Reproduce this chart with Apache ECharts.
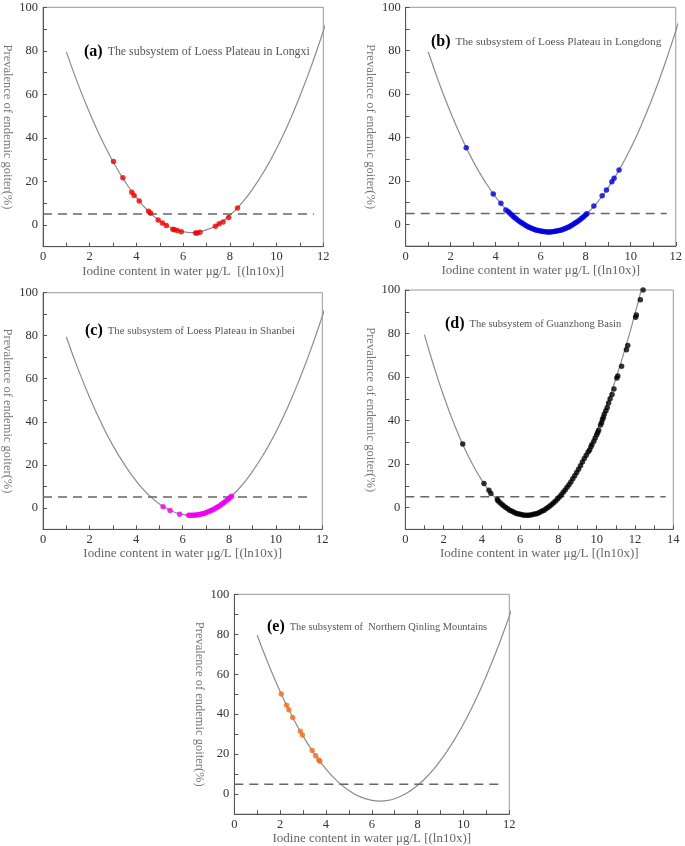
<!DOCTYPE html>
<html><head><meta charset="utf-8">
<script src="https://cdn.jsdelivr.net/npm/echarts@6/dist/echarts.min.js"></script>
<style>html,body{margin:0;padding:0;background:#fff}#c{width:685px;height:846px}</style>
</head><body><div id="c"></div>
<script>
// Fitted curve
const curveX = [1,1.5,2,2.5,3,3.5,4,4.5,5,5.5,6,6.35,6.5,7,7.5,8,8.5,9,9.5,10,10.5,11,11.5,12,12.3];
const curveY = [79.5,64.7,51.4,39.5,29.0,20.1,12.5,6.4,1.8,-1.4,-3.1,-3.5,-3.4,-2.3,0.3,4.4,9.9,16.9,25.3,35.1,46.4,59.2,73.4,89.1,99.2];
// Threshold line (5%)
const thresholdY = 5;
const thresholdEnd = [11.6, 11.6, 11.6, 13.6, 11.6];

// (a) Longxi
const aX = [3.02,3.42,3.80,3.90,4.12,4.52,4.61,4.93,5.11,5.28,5.56,5.63,5.75,5.92,6.53,6.60,6.72,7.38,7.54,7.71,7.95,8.33];
const aY = [29.2,21.7,15.0,13.5,11.0,6.3,5.4,2.3,0.9,-0.3,-2.0,-2.2,-2.6,-3.1,-3.7,-3.7,-3.4,-0.6,0.5,1.4,3.4,7.8];
// (b) Longdong
const bX = [2.69,3.89,4.23,4.45,4.55,4.62,4.70,4.78,4.85,4.92,5.00,5.08,5.15,5.22,5.30,5.38,5.45,5.52,5.60,5.68,5.75,5.82,5.90,5.98,6.05,6.12,6.20,6.28,6.35,6.42,6.50,6.58,6.65,6.72,6.80,6.88,6.95,7.02,7.10,7.18,7.25,7.32,7.40,7.48,7.55,7.62,7.70,7.78,7.85,7.92,8.00,8.05,8.36,8.73,8.92,9.16,9.26,9.48];
const bY = [35.3,14.0,9.7,6.6,5.9,5.2,4.4,3.6,3.0,2.4,1.8,1.2,0.7,0.2,-0.3,-0.8,-1.2,-1.5,-1.9,-2.2,-2.5,-2.7,-2.9,-3.1,-3.2,-3.35,-3.4,-3.5,-3.5,-3.5,-3.4,-3.35,-3.2,-3.1,-2.9,-2.7,-2.5,-2.2,-1.9,-1.5,-1.2,-0.8,-0.3,0.2,0.7,1.2,1.8,2.4,3.0,3.6,4.4,4.9,8.4,13.2,15.8,19.6,21.2,25.0];
// (c) Shanbei
const cX = [5.16,5.46,5.87,6.25,6.32,6.40,6.47,6.55,6.62,6.70,6.77,6.85,6.92,7.00,7.07,7.15,7.22,7.30,7.37,7.45,7.52,7.60,7.67,7.75,7.82,7.90,7.97,8.05,8.10];
const cY = [0.5,-1.3,-3.0,-3.5,-3.5,-3.5,-3.45,-3.4,-3.3,-3.1,-3.0,-2.8,-2.6,-2.3,-2.0,-1.6,-1.3,-0.9,-0.5,0.0,0.5,1.0,1.6,2.2,2.8,3.5,4.1,4.9,5.4];
// (d) Guanzhong Basin
const dX = [3.0,4.11,4.37,4.47,4.81,4.85,4.95,5.05,5.15,5.25,5.35,5.45,5.55,5.65,5.75,5.85,5.95,6.05,6.15,6.25,6.35,6.45,6.55,6.65,6.75,6.85,6.95,7.05,7.15,7.25,7.35,7.45,7.55,7.65,7.75,7.85,7.95,8.05,8.15,8.25,8.35,8.45,8.55,8.65,8.75,8.85,8.95,9.05,9.15,9.25,9.35,9.45,9.55,9.63,9.70,9.75,9.85,9.92,10.0,10.05,10.1,10.2,10.25,10.3,10.35,10.4,10.48,10.55,10.62,10.7,10.8,10.9,11.05,11.1,11.3,11.55,11.62,12.03,12.07,12.28,12.42];
const dY = [29.2,11.1,8.0,6.5,3.7,3.0,2.2,1.4,0.7,0.0,-0.6,-1.2,-1.6,-2.1,-2.5,-2.8,-3.0,-3.2,-3.4,-3.5,-3.5,-3.5,-3.4,-3.2,-3.0,-2.8,-2.5,-2.1,-1.6,-1.2,-0.6,0.0,0.7,1.4,2.2,3.0,3.9,4.9,5.9,7.0,8.1,9.3,10.5,11.8,13.2,14.6,16.1,17.6,19.2,20.9,22.6,24.0,25.5,26.5,28.0,29.0,30.5,32.0,33.5,34.5,35.5,38.0,39.0,40.5,41.5,43.0,44.5,46.0,48.0,50.0,52.0,54.5,59.5,60.5,65.0,72.5,74.5,87.5,88.5,95.5,100];
// (e) Northern Qinling Mountains
const eX = [2.05,2.28,2.38,2.55,2.88,2.97,3.40,3.55,3.69,3.73];
const eY = [50.1,44.5,42.2,38.4,31.5,29.6,21.8,19.2,17.1,16.4];

const panelLabels = ['(a)','(b)','(c)','(d)','(e)'];
const panelTitles = ['The subsystem of Loess Plateau in Longxi','The subsystem of Loess Plateau in Longdong','The subsystem of Loess Plateau in Shanbei','The subsystem of Guanzhong Basin','The subsystem of  Northern Qinling Mountains'];
const xNames = ['Iodine content in water \u03bcg/L  [(ln10x)]','Iodine content in water \u03bcg/L [(ln10x)]','Iodine content in water \u03bcg/L [(ln10x)]','Iodine content in water \u03bcg/L [(ln10x)]','Iodine content in water \u03bcg/L [(ln10x)]'];
const yName = 'Prevalence of endemic goiter(%)';
const xMax = [12,12,12,14,12];
const yTicks = [-10, 100, 10];
const pointColors = ['#ee0000','#0000dd','#ee00ee','#000000','#f07020'];

const grids = [
  {left:41.7, top:7.3, width:281.6, height:239.4},
  {left:405.7, top:7.3, width:270.3, height:238.7},
  {left:41.7, top:292.7, width:280.6, height:236.6},
  {left:405.3, top:290, width:268, height:239.3},
  {left:234.3, top:594.3, width:275, height:221.7}
];
const titlePos = [[79,38],[426,28],[80,317],[440,310],[262,613]];
const xGaps = [14,14,18,17,15];
const subSizes = [11.9,11.3,10.8,10.5,10.4];

const allX=[aX,bX,cX,dX,eX], allY=[aY,bY,cY,dY,eY];
const serif = '"Liberation Serif", "DejaVu Serif", serif';

const option = {animation:false, grid:[], xAxis:[], yAxis:[], series:[], title:[]};
for (let i=0;i<5;i++){
  option.grid.push(Object.assign({show:true, borderColor:'#999', borderWidth:1, containLabel:false}, grids[i]));
  option.xAxis.push({type:'value', gridIndex:i, min:0, max:xMax[i], interval:1,
    name:xNames[i], nameLocation:'middle', nameGap:xGaps[i],
    nameTextStyle:{fontFamily:serif, fontSize:13, color:'#666'},
    axisLine:{onZero:false, lineStyle:{color:'#555', width:1}},
    axisTick:{inside:true, length:4, lineStyle:{color:'#555'}},
    axisLabel:{fontFamily:serif, fontSize:12.5, color:'#333', margin:4,
      formatter:v=> (v%2===0 ? String(v) : '')},
    splitLine:{show:false}});
  option.yAxis.push({type:'value', gridIndex:i, min:yTicks[0], max:yTicks[1], interval:yTicks[2],
    name:yName, nameLocation:'middle', nameGap:29, nameRotate:-90,
    nameTextStyle:{fontFamily:serif, fontSize:12.5, color:'#777'},
    axisLine:{onZero:false, lineStyle:{color:'#555', width:1}},
    axisTick:{inside:true, length:4, lineStyle:{color:'#555'}},
    axisLabel:{fontFamily:serif, fontSize:12.5, color:'#333', margin:5,
      formatter:v=> (v>=0 && v%20===0 ? String(v) : '')},
    splitLine:{show:false}});
  option.series.push({type:'line', xAxisIndex:i, yAxisIndex:i, silent:true, showSymbol:false, smooth:true,
    data: curveX.map((x,k)=>[x,curveY[k]]), lineStyle:{color:'#8c8c8c', width:1.2}, z:2});
  option.series.push({type:'line', xAxisIndex:i, yAxisIndex:i, silent:true, showSymbol:false,
    data: [[0,thresholdY],[thresholdEnd[i],thresholdY]], lineStyle:{color:'#666', width:1.5, type:[9,6]}, z:3});
  option.series.push({type:'scatter', xAxisIndex:i, yAxisIndex:i, symbolSize:5.5,
    data: allX[i].map((x,k)=>[x,allY[i][k]]), itemStyle:{color:pointColors[i]}, z:5});
  option.title.push({left:titlePos[i][0], top:titlePos[i][1],
    text:'{b|'+panelLabels[i]+'} {t|'+panelTitles[i]+'}',
    textStyle:{fontWeight:'normal', rich:{
      b:{fontFamily:serif, fontWeight:'bold', fontSize:16, color:'#000'},
      t:{fontFamily:serif, fontWeight:'normal', fontSize:subSizes[i], color:'#555'}}}});
}
const chart = echarts.init(document.getElementById('c'), null, {renderer:'canvas'});
chart.setOption(option);
</script></body></html>
